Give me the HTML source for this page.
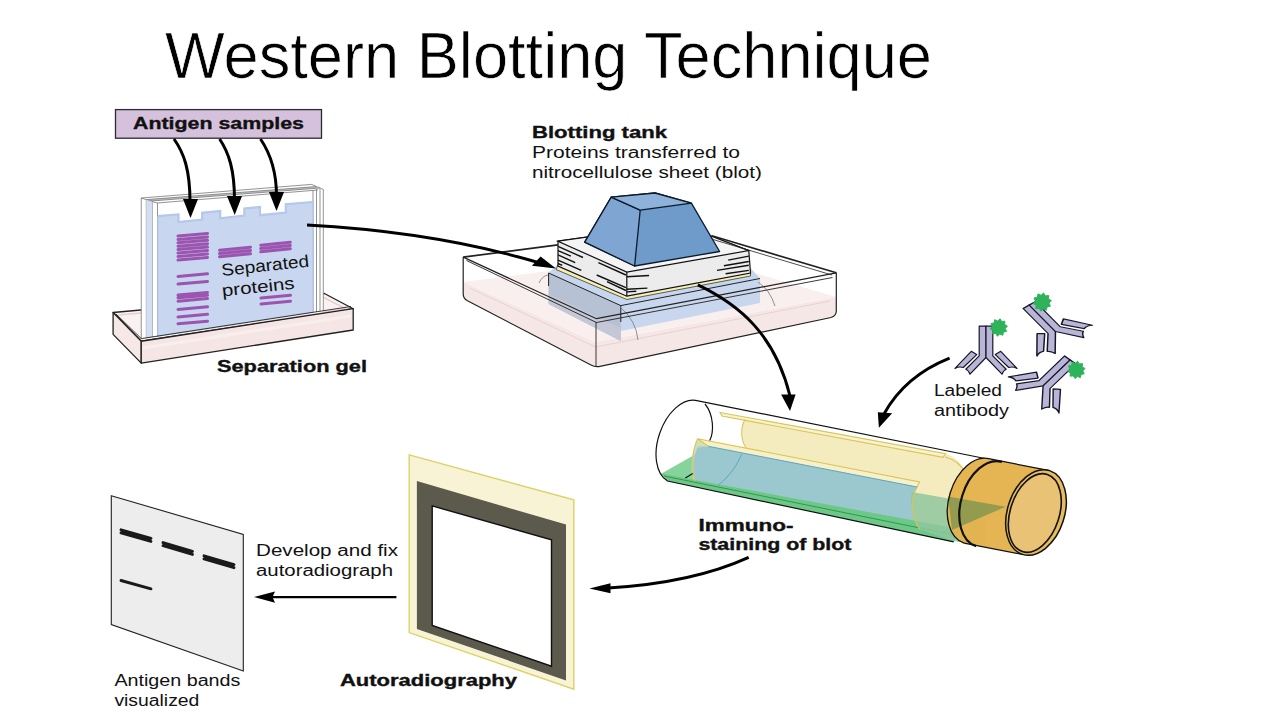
<!DOCTYPE html>
<html><head><meta charset="utf-8">
<style>
html,body{margin:0;padding:0;background:#fff;width:1280px;height:720px;overflow:hidden}
svg{display:block}
.t{font-family:"Liberation Sans",sans-serif;fill:#111}
.b{font-weight:bold;stroke:#111;stroke-width:0.35px}
</style></head><body>
<svg width="1280" height="720" viewBox="0 0 1280 720">
<defs>
<marker id="ah" viewBox="0 0 10 10" refX="10" refY="5" markerWidth="5" markerHeight="5" orient="auto-start-reverse" markerUnits="strokeWidth"><path d="M0,0 L10,5 L0,10 z" fill="#000"/></marker>
</defs>
<!-- Title -->
<text class="t" x="165" y="77.8" font-size="65" textLength="767" lengthAdjust="spacingAndGlyphs" style="fill:#000;stroke:#fff;stroke-width:0.7px">Western Blotting Technique</text>

<!-- ============ GEL ============ -->
<g id="gel">
  <!-- tray top/back face -->
  <path d="M113.1,312.5 L324.4,293.5 L353.2,308.7 L141.25,341.25 Z" fill="#faf2f2" stroke="#222" stroke-width="1.3" stroke-linejoin="round"/>
  <path d="M118,315 L323,297 L346,309 L143,338" fill="none" stroke="#e6cfcf" stroke-width="1.5"/>
  <!-- glass plates -->
  <path d="M141.25,198 L311.6,184.4 L323.3,189.4 L323.3,312 L141.25,339 Z" fill="#fff"/>
  <g fill="none" stroke="#777" stroke-width="0.8">
    <path d="M141.25,198 L311.6,184.4 L323.3,189.4"/>
    <path d="M146.5,199.6 L316,186.6 L318.5,188 L151,201 Z" fill="#c4c4c4" stroke="none"/>
    <path d="M141.25,198 L157,203 L318,190 M146.5,199.6 L316,186.6 M151,201 L320,188"/>
    <path d="M141.25,198 L141.25,339 M146.3,200 L146.3,338 M149.4,201 L149.4,338 M152.5,202 L152.5,337 M157.5,203 L157.5,337"/>
    <path d="M313,190 L313,312 M316.5,189 L316.5,312 M320,189 L320,311 M323.3,189.4 L323.3,311"/>
  </g>
  <path d="M146.3,200 L152.5,202 L152.5,337 L146.3,338 Z" fill="#d3def0"/>
  <!-- gel -->
  <path d="M157.7,216.2 L178.5,214.5 L178.5,222 L202.2,219.5 L202.2,212.8 L220.2,211 L220.2,218.3 L244.4,215.5 L244.4,208.4 L260,207 L260,215.2 L285.8,212.5 L285.8,204.2 L313,202 L313,312 L157.7,336 Z" fill="#c9d6ef" stroke="#a9c0e6" stroke-width="1"/>
  <path d="M157.7,216.2 L178.5,214.5 L178.5,222 L202.2,219.5 L202.2,212.8 L220.2,211 L220.2,218.3 L244.4,215.5 L244.4,208.4 L260,207 L260,215.2 L285.8,212.5 L285.8,204.2 L313,202" fill="none" stroke="#b3c8ea" stroke-width="2.2"/>
  <!-- bands -->
  <g stroke="#9b55b0" stroke-width="3" stroke-linecap="round">
    <path d="M178,236 L207.5,233.5 M178,239.4 L207.5,236.9 M178,242.8 L207.5,240.3 M178,246.2 L207.5,243.7 M178,249.6 L207.5,247.1 M178,253 L207.5,250.5 M178,256.4 L207.5,253.9 M178,260 L207.5,257.5"/>
    <path d="M219.5,250.2 L250.5,247.2 M219.5,253.5 L250.5,250.5 M219.5,256.8 L250.5,253.8"/>
    <path d="M260.7,245.2 L290.3,242.2 M260.7,248.5 L290.3,245.5 M260.7,251.8 L290.3,248.8"/>
    <path d="M178,276.4 L207.5,273.8 M178,284 L207.5,281.4"/>
    <path d="M178,295 L207.5,292.4 M178,297.8 L207.5,295.2 M178,301.2 L207.5,298.6 M178,309.4 L207.5,306.8 M178,316.9 L207.5,314.3 M178,323.75 L207.5,321.15"/>
    <path d="M261,298 L290.5,295.2 M261,304 L290.5,301.2"/>
  </g>
  <text class="t" font-size="17" transform="translate(222,276) rotate(-6.2)" textLength="88" lengthAdjust="spacingAndGlyphs">Separated</text>
  <text class="t" font-size="17" transform="translate(222.5,296.5) rotate(-6.2)" textLength="73" lengthAdjust="spacingAndGlyphs">proteins</text>
  <!-- tray front & left faces -->
  <path d="M113.1,312.5 L141.25,341.25 L141.25,363.1 L113.1,334.4 Z" fill="#f6e8e7" stroke="#222" stroke-width="1.3" stroke-linejoin="round"/>
  <path d="M141.25,341.25 L353.2,308.7 L353.2,330 L141.25,363.1 Z" fill="#f5e6e5" stroke="#222" stroke-width="1.3" stroke-linejoin="round"/>
  <path d="M143,348 L351,316" fill="none" stroke="#f9eeee" stroke-width="3"/>
  <path d="M116,314 L141.25,338.6 L351,306.5" fill="none" stroke="#222" stroke-width="0.9"/>
</g>
<!-- Antigen samples box -->
<rect x="115.5" y="109.6" width="206" height="28.6" fill="#d5c1dc" stroke="#2a2a33" stroke-width="1.3"/>
<text class="t b" x="133" y="129.3" font-size="17" textLength="171" lengthAdjust="spacingAndGlyphs">Antigen samples</text>
<g fill="none" stroke="#000" stroke-width="3">
  <path d="M174,139 C184,153 190,170 190,202"/>
  <path d="M219.6,139 C229,153 234.5,170 234.5,200"/>
  <path d="M260.5,139 C270,153 276.5,170 276.5,196"/>
</g>
<g fill="#000">
  <path d="M183,199 L198,199 L190.5,218 Z"/>
  <path d="M227,196 L242,196 L234.7,215 Z"/>
  <path d="M269,192 L284,192 L276.5,211 Z"/>
</g>
<text class="t b" x="217" y="371.5" font-size="16.5" textLength="150" lengthAdjust="spacingAndGlyphs">Separation gel</text>

<!-- ============ TANK ============ -->
<g id="tank">
  <!-- pink liquid front faces -->
  <path d="M463.2,282 L595.5,342 L836.3,297 L836.3,312 Q836.3,316 832,317.5 L599,366.3 Q595.5,367 592,365 L467,300 Q463.2,298 463.2,294 Z" fill="#f5e7e6"/>
  <!-- liquid surface -->
  <path d="M463.2,282 L595.5,342 L836.3,297 L686,253 Z" fill="#f9efee"/>
  <path d="M470,288 L595.5,347 L830,301" fill="none" stroke="#ead0d0" stroke-width="1"/>
  <!-- blue slab faces -->
  <path d="M548.6,273 L560,262 L745,262 L760,278.5 L620.8,305.6 Z" fill="#c6d6ef"/>
  <path d="M548.6,273 L620.8,305.6 L760,278.5 L760,303 L620.8,331 L548.6,300 Z" fill="#c9d7ee"/>
  <path d="M548.6,273 L620.8,305.6 L620.8,341 L548.6,304 Z" fill="#b6c1d3"/>
  <path d="M548.6,294 L620.8,328 L620.8,341 L548.6,304 Z" fill="#c4c8d6"/>
  <path d="M548.6,273 L620.8,305.6 L760,278.5" fill="none" stroke="#222" stroke-width="1"/>
  <path d="M548.6,273 L548.6,286 M620.8,305.6 L620.8,322" fill="none" stroke="#222" stroke-width="1"/>
  <path d="M539,283 Q542,276 548,275 M758,282 Q770,290 775,306 M620,307 Q636,320 638,340" fill="none" stroke="#777" stroke-width="0.8"/>
</g>
<!-- stack -->
<g id="stack">
  <!-- yellow strip -->
  <path d="M558,265 L626.8,295 L750.5,272 L750.5,276 L626.8,299.5 L556,269.5 Z" fill="#f5eeb0" stroke="#222" stroke-width="0.7"/>
  <!-- paper stack -->
  <path d="M558,241.2 L680,224 L748.8,250.6 L750.5,273 L626.8,296.2 L558,266.1 Z" fill="#ececec" stroke="#111" stroke-width="1.2"/>
  <path d="M558,241.2 L680,224 L748.8,250.6 L626.8,272.1 Z" fill="#f4f4f4" stroke="#111" stroke-width="1.2"/>
  <path d="M626.8,272.1 L626.8,296.2" stroke="#111" stroke-width="1.2"/>
  <path d="M558.0,246.3 L583.0,257.5 M558.0,250.6 L570.9,256.1 M558.0,254.9 L575.2,262.7 M558.0,260.1 L581.3,270.4 M598.4,262.7 L625.9,275.0 M596.7,275.0 L625.9,287.6 M607.0,281.6 L625.9,290.5 M558.0,263.5 L562.3,265.4 M626.8,276.8 L649.1,275.5 M626.8,289.3 L647.4,288.1 M626.8,291.9 L636.3,291.2 M728.2,260.1 L748.8,256.1 M723.9,265.8 L748.8,261.5 M717.0,270.4 L748.8,265.2 M725.6,273.8 L748.8,270.4" stroke="#111" stroke-width="1.4" fill="none"/>
  <!-- weight -->
  <path d="M611.25,197.2 L655,193 L691.4,203.2 L719.6,251.5 L634.6,266 L584.7,242.2 Z" fill="#6e9bca" stroke="#0d1a2a" stroke-width="1.3" stroke-linejoin="round"/>
  <path d="M611.25,197.2 L640.2,210.2 L634.6,266 L584.7,242.2 Z" fill="#7fa6d2" stroke="#0d1a2a" stroke-width="1.3" stroke-linejoin="round"/>
  <path d="M611.25,197.2 L655,193 L691.4,203.2 L640.2,210.2 Z" fill="#8eb2da" stroke="#0d1a2a" stroke-width="1.3" stroke-linejoin="round"/>
</g>
<!-- tank outline drawn over -->
<g fill="none" stroke="#222" stroke-width="1.2">
  <path d="M463.2,257.1 L558,244.9 M711.9,235.8 L836.3,272.8" stroke-width="1.7"/>
  <path d="M713,239.5 L832,275" stroke-width="0.8"/>
  <path d="M463.2,257.1 L596.5,318.7 L836.3,272.8"/>
  <path d="M466.5,260.5 L596.5,322.5 L832.5,277.5" stroke-width="0.9"/>
  <path d="M463.2,257.1 L463.2,294 Q463.2,298.3 467,300.5 L591,365 Q595.5,367.5 600,366.3 L831,317.5 Q836.3,316 836.3,311 L836.3,272.8"/>
  <path d="M596,322 L596,366" stroke-width="0.9"/>
</g>
<text class="t b" x="532" y="138" font-size="16" textLength="135" lengthAdjust="spacingAndGlyphs">Blotting tank</text>
<text class="t" x="532" y="158" font-size="16" textLength="208" lengthAdjust="spacingAndGlyphs">Proteins transferred to</text>
<text class="t" x="532" y="177.5" font-size="16" textLength="230" lengthAdjust="spacingAndGlyphs">nitrocellulose sheet (blot)</text>

<!-- gel -> tank arrow -->
<path d="M307,225 C400,230 480,245 540,263" fill="none" stroke="#000" stroke-width="2.9"/>
<path d="M531.9,265.8 L540.6,256.5 L556,268.6 Z" fill="#000"/>

<!-- tank -> tube arrow -->
<path d="M697.8,284.9 C740,305 775,335 790,396" fill="none" stroke="#000" stroke-width="2.9"/>
<path d="M781.1,394.4 L795.6,394.4 L790,411.1 Z" fill="#000"/>

<!-- antibody -> tube arrow -->
<path d="M949.6,358.2 C925,368 900,385 884,414" fill="none" stroke="#000" stroke-width="2.9"/>
<path d="M877.8,412.2 L892.2,413.3 L878.9,427.8 Z" fill="#000"/>

<!-- ============ TUBE ============ -->
<g id="tube">
  <!-- tube glass body fill -->
  <path d="M695.6,400.3 L985,458.5 L953.75,541.9 L667.5,481 A26,43 19 0 1 695.6,400.3 Z" fill="#fff"/>
  <!-- green liquid surface -->
  <path d="M661.5,473.5 L709.7,446.25 L960,500 L955,541 L667.5,481 Z" fill="#86d49c"/>
  <!-- yellow upper sheet fill -->
  <path d="M720,412.5 L945.5,453.7 C965,460 972,480 968,505 L955,535 L745,492 L746,447.8 C741,436 741,426 745,419.5 L722,416 Z" fill="#f4ebbf"/>
  <path d="M720,412.5 L945.5,453.7 L943.1,457.3 L722,416 Z" fill="#f8f2d2"/>
  <!-- lower flap strip -->
  <path d="M697.5,438.7 L919.5,482 L917.1,487 L708.3,446.3 Z" fill="#f7f0c9"/>
  <!-- blue blot -->
  <path d="M708.3,446.3 L917.1,487 C911,500 911,515 919.5,529.2 L695,481 C692,470 692,458 697.5,446 Z" fill="#9bc7ce"/>
  <path d="M697.5,439 L708.3,446.3 L697.5,448 C693,458 693,470 695,481 L693,480 C690,468 691,452 697.5,439 Z" fill="#c9d7b0" opacity="0.8"/>
  <!-- green bottom strip -->
  <path d="M661.5,473.5 L695,480 L959.6,529 L953.75,541.9 L667.5,481 Z" fill="#6cc886"/>
  <path d="M664,476 L957,535.5" stroke="#2f8f4a" stroke-width="0.9" fill="none"/>
  <!-- green translucent near cap -->
  <path d="M912,492 L985,505 L985,545 L953,541 L919.5,529.2 C911,515 910,498 912,492 Z" fill="#8fc79e" opacity="0.85"/>
  <!-- yellow lines -->
  <g fill="none" stroke="#d8c655" stroke-width="1.1">
    <path d="M720,412.5 L945.5,453.7 L943.1,457.3 L722,416 Z"/>
    <path d="M745,419.5 C740,428 741,440 746,447.8"/>
    <path d="M945,457 C965,462 972,480 966,505"/>
    <path d="M708.3,446.3 L697.5,438.7 L919.5,482 L917.1,487"/>
    <path d="M697.5,438.7 C692,452 691,468 695,481"/>
    <path d="M917.1,487 C910,500 911,515 919.5,529.2"/>
  </g>
  <path d="M741.7,454.2 C737,465 730,476 718.3,485 M708.3,446.3 L917.1,487" fill="none" stroke="#5aa6c0" stroke-width="1"/>
  <!-- inner rim -->
  <path d="M705,404 C714,415 714,432 709.7,440.6" fill="none" stroke="#111" stroke-width="1.2"/>
  <path d="M685.3,478 L692.8,473.4" fill="none" stroke="#111" stroke-width="1.2"/>
  <!-- tube outline -->
  <path d="M985,458.5 L695.6,400.3 A26,43 19 0 0 667.5,481 L953.75,541.9" fill="none" stroke="#111" stroke-width="1.2"/>
  <!-- cap -->
  <path d="M989.9,458.9 L1049.6,470.6 L1036,512.5 L1022.4,554.4 L964.1,543.1 A28,44 17 0 1 989.9,458.9 Z" fill="#e4b24d" opacity="0.96"/>
  <path d="M948,496.5 L1005.8,506.7 L952,530 Z" fill="#5f8a4c" opacity="0.6"/>
  <path d="M989.9,458.9 A28,44 17 0 0 964.1,543.1" fill="none" stroke="#111" stroke-width="1.3"/>
  <path d="M1001.9,461.9 A28,44 17 0 0 976.1,546.1" fill="none" stroke="#111" stroke-width="2.2"/>
  <path d="M989.9,458.9 L1049.6,470.6 M964.1,543.1 L1022.4,554.4" stroke="#111" stroke-width="1.2"/>
  <ellipse cx="1036" cy="512.5" rx="28.5" ry="44" transform="rotate(18 1036 512.5)" fill="#e7bb5f" stroke="#111" stroke-width="1.5"/>
  <ellipse cx="1034.8" cy="513" rx="24.5" ry="40.5" transform="rotate(18 1034.8 513)" fill="#eac275" stroke="#111" stroke-width="1.6"/>
</g>


<defs>
<g id="ab">
  <g fill="#b8b5d6" stroke="#16162a" stroke-width="1.2" stroke-linejoin="round">
    <path d="M-6.8,-30.5 L0,-30.5 L0,0.8 L-16,17.5 Q-17.5,13.5 -20.2,12.5 L-6.8,-0.8 Z"/>
    <path d="M6.8,-30.5 L0,-30.5 L0,0.8 L16,17.5 Q17.5,13.5 20.2,12.5 L6.8,-0.8 Z"/>
    <path d="M-14.75,-5.4 L-9.3,-2.1 L-22.7,10.8 Q-27,9.5 -31,11.7 Z"/>
    <path d="M14.75,-5.4 L9.3,-2.1 L22.7,10.8 Q27,9.5 31,11.7 Z"/>
  </g>
  
</g>
</defs>
<use href="#ab" transform="translate(986,356.7)"/>
<use href="#ab" transform="matrix(0.895,-0.498,0.839,0.844,1054.8,330.8)"/>
<use href="#ab" transform="matrix(0.815,0.583,-0.864,0.830,1043.8,385.2)"/>
<path d="M1000.1,318.8 L1001.7,321.6 L1004.9,321.2 L1004.6,324.5 L1007.4,326.1 L1005.3,328.5 L1006.6,331.4 L1003.4,332.1 L1002.8,335.3 L999.8,334.0 L997.4,336.2 L995.8,333.4 L992.6,333.8 L992.9,330.5 L990.1,328.9 L992.2,326.5 L990.9,323.6 L994.1,322.9 L994.7,319.7 L997.7,321.0 Z" fill="#2fb35a" stroke="#2fb35a" stroke-width="1" stroke-linejoin="round"/>
<path d="M1043.6,293.0 L1045.3,295.9 L1048.7,295.5 L1048.3,298.9 L1051.3,300.6 L1049.0,303.1 L1050.4,306.2 L1047.1,306.9 L1046.4,310.3 L1043.3,308.9 L1040.8,311.2 L1039.1,308.3 L1035.7,308.7 L1036.1,305.3 L1033.1,303.6 L1035.4,301.1 L1034.0,298.0 L1037.3,297.3 L1038.0,293.9 L1041.1,295.3 Z" fill="#2fb35a" stroke="#2fb35a" stroke-width="1" stroke-linejoin="round"/>
<path d="M1077.6,361.2 L1079.3,364.0 L1082.5,363.6 L1082.2,366.9 L1085.0,368.5 L1082.8,370.9 L1084.2,373.8 L1081.0,374.5 L1080.4,377.7 L1077.4,376.4 L1075.0,378.6 L1073.3,375.8 L1070.1,376.2 L1070.4,372.9 L1067.6,371.3 L1069.8,368.9 L1068.4,366.0 L1071.6,365.3 L1072.2,362.1 L1075.2,363.4 Z" fill="#2fb35a" stroke="#2fb35a" stroke-width="1" stroke-linejoin="round"/>
<text class="t" x="934" y="396" font-size="16" textLength="68" lengthAdjust="spacingAndGlyphs">Labeled</text>
<text class="t" x="934" y="416" font-size="16" textLength="75" lengthAdjust="spacingAndGlyphs">antibody</text>
<text class="t b" x="698.4" y="531" font-size="16" textLength="95" lengthAdjust="spacingAndGlyphs">Immuno-</text>
<text class="t b" x="698.4" y="550.4" font-size="16" textLength="153" lengthAdjust="spacingAndGlyphs">staining of blot</text>

<!-- tube -> autorad arrow -->
<path d="M748.7,557.4 C710,575 660,585 608,588" fill="none" stroke="#000" stroke-width="2.9"/>
<path d="M610.5,583.2 L610.5,593.3 L589.4,588.6 Z" fill="#000"/>

<!-- ============ AUTORAD ============ -->
<path d="M409.2,454.9 L573.8,499.9 L573.8,689.2 L409.2,632.6 Z" fill="#f8f3d4" stroke="#dcd267" stroke-width="1.4"/>
<path d="M416.9,481.1 L566,524.6 L566,680.4 L416.9,629 Z" fill="#5c5a4d"/>
<path d="M432.2,505.9 L551.5,539.9 L551.5,666.2 L432.2,625.5 Z" fill="#fff" stroke="#111" stroke-width="1.4"/>
<text class="t b" x="340" y="686.4" font-size="16" textLength="177" lengthAdjust="spacingAndGlyphs">Autoradiography</text>

<text class="t" x="256" y="556" font-size="16" textLength="142" lengthAdjust="spacingAndGlyphs">Develop and fix</text>
<text class="t" x="256" y="575.6" font-size="16" textLength="137" lengthAdjust="spacingAndGlyphs">autoradiograph</text>
<path d="M396.4,597.1 L268,597.1" fill="none" stroke="#000" stroke-width="2.4"/>
<path d="M254,597.1 L275,591.5 L272.5,597.1 L275,602.7 Z" fill="#000"/>

<!-- blot -->
<path d="M111.3,495.7 L243.3,534.4 L243.3,671 L111.3,624.6 Z" fill="#ededed" stroke="#222" stroke-width="1.1"/>
<g stroke="#1a1a1a" stroke-width="2.9" stroke-linecap="round">
  <path d="M121,529.8 L151,538.3 M121,532.9 L151,541.4"/>
  <path d="M163,542.6 L192.5,551.3 M163,545.7 L192.5,554.4"/>
  <path d="M204,555.8 L234,564.6 M204,558.9 L234,567.7"/>
  <path d="M121,580.5 L151,588.8"/>
</g>
<text class="t" x="114.4" y="686.4" font-size="16" textLength="126" lengthAdjust="spacingAndGlyphs">Antigen bands</text>
<text class="t" x="114.4" y="705.5" font-size="16" textLength="85" lengthAdjust="spacingAndGlyphs">visualized</text>
</svg>
</body></html>
